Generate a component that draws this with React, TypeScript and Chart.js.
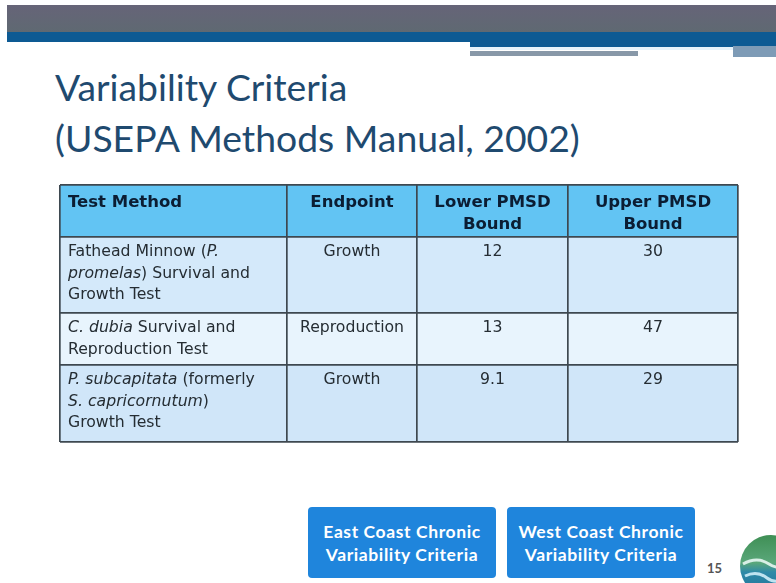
import React, { useEffect, useRef } from "react";
import { Chart, registerables } from "chart.js";

Chart.register(...registerables);

// ---- table content ----
const columnHeaders: string[][] = [
  ["Test Method"],
  ["Endpoint"],
  ["Lower PMSD", "Bound"],
  ["Upper PMSD", "Bound"],
];
type Seg = [string, boolean]; // [text, italic]
const testMethods: Seg[][][] = [
  [[["Fathead Minnow (", false], ["P.", true]], [["promelas", true], [") Survival and", false]], [["Growth Test", false]]],
  [[["C. dubia", true], [" Survival and", false]], [["Reproduction Test", false]]],
  [[["P. subcapitata", true], [" (formerly", false]], [["S. capricornutum", true], [")", false]], [["Growth Test", false]]],
];
const endpoints = ["Growth", "Reproduction", "Growth"];
const lowerPMSD = [12, 13, 9.1];
const upperPMSD = [30, 47, 29];

// ---- layout / style ----
const COL_WIDTHS = [227, 130, 151, 170];
const ROW_HEIGHTS = [52, 76, 52, 77];
const ROW_FILLS = ["#62c4f3", "#d4e9fa", "#e8f4fd", "#d0e6f9"];
const BORDER = "#3e4850";
const HEAD_TEXT = "#0b1d33";
const BODY_TEXT = "#252d33";
const BODY_FONT = '15.7px "DejaVu Sans"';
const BODY_ITALIC = 'italic 15.7px "DejaVu Sans"';
const HEAD_FONT = 'bold 16.5px "DejaVu Sans"';

const cum = (arr: number[]) => arr.reduce<number[]>((a, v) => [...a, a[a.length - 1] + v], [0]);
const colBounds = cum(COL_WIDTHS);
const rowBounds = cum(ROW_HEIGHTS);
const TW = colBounds[colBounds.length - 1];
const TH = rowBounds[rowBounds.length - 1];

const textPlugin = {
  id: "tableText",
  afterDraw(chart: any) {
    const ctx = chart.ctx as CanvasRenderingContext2D;
    const xs = chart.scales.x;
    const ys = chart.scales.y;
    const LH = 21.5;
    ctx.save();
    ctx.textBaseline = "middle";
    const cellLeft = (c: number) => xs.getPixelForValue(colBounds[c]);
    const cellCenter = (c: number) => (xs.getPixelForValue(colBounds[c]) + xs.getPixelForValue(colBounds[c + 1])) / 2;
    const rowTop = (r: number) => ys.getPixelForValue(rowBounds[r]);

    // header
    ctx.fillStyle = HEAD_TEXT;
    ctx.font = HEAD_FONT;
    columnHeaders.forEach((lines, c) => {
      lines.forEach((ln, i) => {
        const y = rowTop(0) + 18 + i * LH;
        if (c === 0) {
          ctx.textAlign = "left";
          ctx.fillText(ln, cellLeft(c) + 8, y);
        } else {
          ctx.textAlign = "center";
          ctx.fillText(ln, cellCenter(c), y);
        }
      });
    });

    // body
    ctx.fillStyle = BODY_TEXT;
    for (let r = 0; r < testMethods.length; r++) {
      const top = rowTop(r + 1) + 15;
      ctx.textAlign = "left";
      testMethods[r].forEach((segs, i) => {
        let x = cellLeft(0) + 8;
        const y = top + i * LH;
        segs.forEach(([t, it]) => {
          ctx.font = it ? BODY_ITALIC : BODY_FONT;
          ctx.fillText(t, x, y);
          x += ctx.measureText(t).width;
        });
      });
      ctx.font = BODY_FONT;
      ctx.textAlign = "center";
      ctx.fillText(endpoints[r], cellCenter(1), top);
      ctx.fillText(String(lowerPMSD[r]), cellCenter(2), top);
      ctx.fillText(String(upperPMSD[r]), cellCenter(3), top);
    }
    ctx.restore();
  },
};

function TableChart() {
  const ref = useRef<HTMLCanvasElement>(null);
  useEffect(() => {
    if (!ref.current) return;
    const datasets = ROW_HEIGHTS.map((_, i) => ({
      type: "line" as const,
      data: [
        { x: 0, y: rowBounds[i] },
        { x: TW, y: rowBounds[i] },
      ],
      fill: { value: rowBounds[i + 1] },
      backgroundColor: ROW_FILLS[i],
      borderWidth: 0,
      pointRadius: 0,
    }));
    const gridOpts = { color: BORDER, lineWidth: 1.7, drawTicks: false };
    const chart = new Chart(ref.current, {
      type: "line",
      data: { datasets },
      options: {
        animation: false,
        responsive: false,
        devicePixelRatio: 1,
        layout: { padding: 3 },
        plugins: {
          legend: { display: false },
          tooltip: { enabled: false },
          filler: { drawTime: "beforeDraw" },
        },
        events: [],
        scales: {
          x: {
            type: "linear",
            min: 0,
            max: TW,
            afterBuildTicks: (s: any) => {
              s.ticks = colBounds.map((v) => ({ value: v }));
            },
            grid: gridOpts,
            border: { display: false },
            ticks: { display: false },
          },
          y: {
            type: "linear",
            min: 0,
            max: TH,
            reverse: true,
            afterBuildTicks: (s: any) => {
              s.ticks = rowBounds.map((v) => ({ value: v }));
            },
            grid: gridOpts,
            border: { display: false },
            ticks: { display: false },
          },
        },
      } as any,
      plugins: [textPlugin],
    });
    return () => chart.destroy();
  }, []);
  return (
    <canvas
      ref={ref}
      width={TW + 6}
      height={TH + 6}
      style={{ position: "absolute", left: 57, top: 182, width: TW + 6, height: TH + 6 }}
    />
  );
}

const btn: React.CSSProperties = {
  position: "absolute",
  top: 507,
  width: 188,
  height: 71,
  background: "#1f85dc",
  borderRadius: 4,
  color: "#fff",
  font: "bold 17.5px Lato",
  letterSpacing: "0.6px",
  lineHeight: "23px",
  display: "flex",
  alignItems: "center",
  justifyContent: "center",
  textAlign: "center",
  whiteSpace: "nowrap",
};

export default function App() {
  return (
    <div
      style={{
        position: "fixed",
        left: 0,
        top: 0,
        width: 776,
        height: 583,
        background: "#fff",
        overflow: "hidden",
      }}
    >
      {/* header bands */}
      <div style={{ position: "absolute", left: 7, top: 5, width: 769, height: 27, background: "linear-gradient(#666478, #5f6972)" }} />
      <div style={{ position: "absolute", left: 7, top: 32, width: 769, height: 10, background: "#0d5a93" }} />
      <div style={{ position: "absolute", left: 470, top: 42, width: 306, height: 5, background: "#0d5a93" }} />
      <div style={{ position: "absolute", left: 470, top: 47, width: 263, height: 3, background: "#e6f3fb" }} />
      <div style={{ position: "absolute", left: 470, top: 51, width: 168, height: 5, background: "#8898a8" }} />
      <div style={{ position: "absolute", left: 733, top: 46, width: 43, height: 11, background: "#7e9bb6" }} />

      {/* title */}
      <div
        style={{
          position: "absolute",
          left: 55,
          top: 61,
          font: "37.3px Lato",
          lineHeight: "51px",
          color: "#1f4a6f",
          whiteSpace: "nowrap",
        }}
      >
        Variability Criteria
        <br />
        (USEPA Methods Manual, 2002)
      </div>

      <TableChart />

      {/* buttons */}
      <div style={{ ...btn, left: 308 }}>
        East Coast Chronic
        <br />
        Variability Criteria
      </div>
      <div style={{ ...btn, left: 507 }}>
        West Coast Chronic
        <br />
        Variability Criteria
      </div>

      <div style={{ position: "absolute", left: 707, top: 560, font: "bold 13px Lato", color: "#555" }}>15</div>

      {/* logo */}
      <svg style={{ position: "absolute", left: 739, top: 534 }} width={64} height={64} viewBox="0 0 64 64">
        <defs>
          <linearGradient id="lg" x1="0" y1="0" x2="0" y2="1">
            <stop offset="0" stopColor="#3f8f55" />
            <stop offset="0.45" stopColor="#5aa77a" />
            <stop offset="0.6" stopColor="#2f8aa8" />
            <stop offset="1" stopColor="#1f6f96" />
          </linearGradient>
        </defs>
        <circle cx={32} cy={32} r={31} fill="url(#lg)" />
        <path d="M4 30 Q18 22 30 30 T60 28" stroke="#d8efe6" strokeWidth={3} fill="none" />
        <path d="M6 42 Q18 36 28 44 T58 40" stroke="#bfe3f0" strokeWidth={3} fill="none" />
      </svg>
    </div>
  );
}
